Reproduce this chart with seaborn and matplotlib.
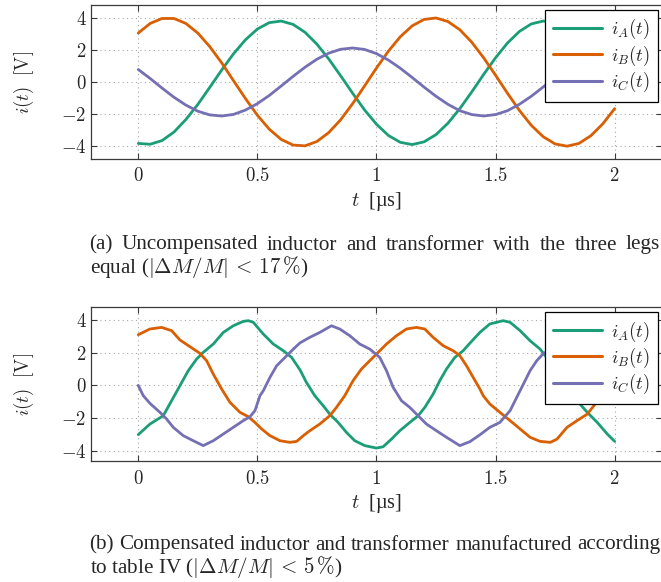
import numpy as np
import pandas as pd
import matplotlib
matplotlib.use("Agg")
import matplotlib.pyplot as plt
from matplotlib.lines import Line2D
from matplotlib.ticker import FuncFormatter, FixedLocator
import seaborn as sns

# ---------------------------------------------------------------- data
labels = [r"$i_A(t)$", r"$i_B(t)$", r"$i_C(t)$"]
colors = ["#1b9e77", "#d95f02", "#7570b3"]

# (a) uncompensated: sampled every 0.05 us
t_a = [0.00, 0.05, 0.10, 0.15, 0.20, 0.25, 0.30, 0.35, 0.40, 0.45,
       0.50, 0.55, 0.60, 0.65, 0.70, 0.75, 0.80, 0.85, 0.90, 0.95,
       1.00, 1.05, 1.10, 1.15, 1.20, 1.25, 1.30, 1.35, 1.40, 1.45,
       1.50, 1.55, 1.60, 1.65, 1.70, 1.75, 1.80, 1.85, 1.90, 1.95, 2.00]
iA_a = [-3.83, -3.88, -3.65, -3.12, -2.34, -1.40, -0.34, 0.74, 1.76, 2.63,
        3.30, 3.70, 3.80, 3.59, 3.10, 2.36, 1.43, 0.38, -0.70, -1.74,
        -2.63, -3.33, -3.76, -3.90, -3.73, -3.28, -2.57, -1.66, -0.62, 0.47,
        1.51, 2.43, 3.15, 3.62, 3.80, 3.67, 3.25, 2.57, 1.69, 0.66, -0.43]
iB_a = [3.05, 3.65, 3.96, 3.96, 3.65, 3.05, 2.21, 1.20, 0.08, -1.03,
        -2.07, -2.94, -3.58, -3.93, -3.98, -3.71, -3.15, -2.35, -1.35, -0.25,
        0.87, 1.92, 2.82, 3.50, 3.90, 3.99, 3.77, 3.26, 2.48, 1.51,
        0.42, -0.70, -1.77, -2.70, -3.41, -3.86, -4.00, -3.83, -3.35, -2.61, -1.66]
iC_a = [0.78, 0.22, -0.38, -0.95, -1.44, -1.82, -2.05, -2.12, -2.02, -1.75,
        -1.35, -0.84, -0.25, 0.35, 0.92, 1.42, 1.80, 2.04, 2.12, 2.03,
        1.77, 1.37, 0.86, 0.28, -0.32, -0.89, -1.39, -1.79, -2.03, -2.12,
        -2.03, -1.79, -1.39, -0.89, -0.31, 0.29, 0.87, 1.37, 1.77, 2.03, 2.12]

# (b) compensated
tA_b = [0.000, 0.049, 0.105, 0.140, 0.175, 0.210, 0.245, 0.273, 0.315, 0.357,
        0.399, 0.441, 0.462, 0.483, 0.525, 0.567, 0.609, 0.644, 0.679, 0.706,
        0.741, 0.776, 0.804, 0.839, 0.874, 0.909, 0.951, 1.000, 1.028, 1.063,
        1.098, 1.140, 1.175, 1.203, 1.238, 1.266, 1.294, 1.329, 1.364, 1.392,
        1.434, 1.476, 1.504, 1.532, 1.561, 1.603, 1.645, 1.687, 1.750, 1.800,
        1.842, 1.885, 1.927, 1.969, 2.000]
iA_b = [-3.02, -2.37, -1.86, -0.94, -0.02, 0.90, 1.61, 2.02, 2.53, 3.24,
        3.65, 3.92, 3.96, 3.86, 3.14, 2.53, 2.12, 1.71, 0.95, 0.18,
        -0.63, -1.24, -1.76, -2.27, -2.88, -3.39, -3.69, -3.84, -3.76, -3.29,
        -2.78, -2.27, -1.86, -1.35, -0.53, 0.29, 1.00, 1.71, 2.12, 2.58,
        3.24, 3.76, 3.86, 3.96, 3.86, 3.35, 2.73, 2.22, 1.05, -0.10,
        -0.94, -1.65, -2.27, -2.98, -3.43]
tB_b = [0.000, 0.049, 0.098, 0.140, 0.175, 0.217, 0.259, 0.287, 0.315, 0.350,
        0.385, 0.427, 0.462, 0.490, 0.518, 0.553, 0.595, 0.637, 0.665, 0.693,
        0.720, 0.762, 0.804, 0.832, 0.867, 0.902, 0.937, 0.972, 1.007, 1.042,
        1.084, 1.126, 1.168, 1.203, 1.238, 1.280, 1.322, 1.350, 1.378, 1.406,
        1.434, 1.448, 1.476, 1.518, 1.561, 1.603, 1.645, 1.687, 1.730, 1.758,
        1.800, 1.842, 1.885, 1.913, 1.934, 1.970, 2.000]
iB_b = [3.10, 3.45, 3.55, 3.35, 2.78, 2.37, 1.96, 1.51, 0.69, -0.22,
        -1.04, -1.65, -1.92, -2.27, -2.67, -3.08, -3.39, -3.49, -3.43, -3.08,
        -2.78, -2.37, -1.86, -1.35, -0.63, 0.29, 1.00, 1.51, 2.02, 2.53,
        3.04, 3.45, 3.55, 3.45, 2.94, 2.43, 2.12, 1.82, 1.20, 0.49,
        -0.22, -0.63, -1.14, -1.65, -2.16, -2.67, -3.18, -3.43, -3.49, -3.29,
        -2.57, -2.16, -1.76, -1.24, -0.84, 0.10, 0.86]
tC_b = [0.000, 0.021, 0.049, 0.091, 0.119, 0.147, 0.189, 0.231, 0.273, 0.315,
        0.357, 0.399, 0.441, 0.469, 0.490, 0.511, 0.525, 0.553, 0.581, 0.616,
        0.651, 0.679, 0.720, 0.762, 0.811, 0.846, 0.888, 0.930, 0.972, 1.014,
        1.042, 1.070, 1.105, 1.140, 1.175, 1.210, 1.252, 1.294, 1.350, 1.392,
        1.434, 1.476, 1.518, 1.561, 1.589, 1.617, 1.645, 1.673, 1.699, 1.750,
        1.800, 1.850, 1.885, 1.920, 1.960, 2.000]
iC_b = [0.00, -0.63, -1.10, -1.65, -2.06, -2.57, -3.08, -3.39, -3.69, -3.39,
        -2.98, -2.57, -2.16, -1.92, -1.55, -0.63, -0.33, 0.49, 1.20, 1.71,
        2.22, 2.60, 2.94, 3.24, 3.65, 3.45, 3.04, 2.53, 2.22, 1.71,
        0.90, -0.12, -0.94, -1.35, -1.86, -2.37, -2.78, -3.18, -3.69, -3.45,
        -3.03, -2.57, -2.27, -1.55, -0.73, 0.08, 0.90, 1.51, 1.92, 2.40,
        2.85, 3.30, 3.65, 3.40, 3.00, 2.55]

x_ticks = [0, 0.5, 1, 1.5, 2]
y_ticks = [-4, -2, 0, 2, 4]

caption_a = ["(a) Uncompensated inductor and transformer with the three legs",
             r"equal ($|\Delta M/M|\, <\, 17\,\%$)"]
caption_b = ["(b) Compensated inductor and transformer manufactured according",
             r"to table IV ($|\Delta M/M|\, <\, 5\,\%$)"]

# ---------------------------------------------------------------- style
sns.set_theme(style="white")
plt.rcParams.update({
    "font.family": ["Liberation Serif", "DejaVu Serif"],
    "mathtext.fontset": "cm",
    "axes.unicode_minus": True,
})

W, H = 661, 582
fig = plt.figure(figsize=(W / 100, H / 100), dpi=100)


def px_box(left, top, right, bottom):
    return [left / W, 1 - bottom / H, (right - left) / W, (bottom - top) / H]


def long_frame(series):
    parts = []
    for name, (t, v) in zip(labels, series):
        parts.append(pd.DataFrame({"t": t, "i": v, "phase": name}))
    return pd.concat(parts, ignore_index=True)


def draw_panel(ax, df, ylim):
    sns.lineplot(data=df, x="t", y="i", hue="phase", hue_order=labels,
                 palette=colors, estimator=None, sort=False, linewidth=2.0,
                 legend=False, ax=ax)
    ax.set_xlim(-0.2, 2.2)
    ax.set_ylim(*ylim)
    ax.xaxis.set_major_locator(FixedLocator(x_ticks))
    ax.yaxis.set_major_locator(FixedLocator(y_ticks))
    fmt = FuncFormatter(lambda v, p: r"$%g$" % v)
    ax.xaxis.set_major_formatter(fmt)
    ax.yaxis.set_major_formatter(fmt)
    ax.grid(True, color="#a8a8a8", linestyle=(0, (1, 3)), linewidth=0.8)
    ax.set_axisbelow(True)
    for s in ax.spines.values():
        s.set_color("#3a3a3a")
        s.set_linewidth(0.9)
    ax.tick_params(axis="both", direction="in", length=4, width=0.8,
                   color="#3a3a3a", labelsize=13.5, top=True, right=True,
                   left=True, bottom=True)
    ax.tick_params(axis="x", pad=6)
    ax.tick_params(axis="y", pad=3)
    ax.set_xlabel(r"$t$  [µs]", fontsize=14.5)
    ax.set_ylabel(r"$i(t)\ \ [\mathrm{V}]$", fontsize=13.5)
    ax.xaxis.set_label_coords(0.5, -0.20)
    ax.yaxis.set_label_coords(-0.095, 0.5)
    handles = [Line2D([], [], color=c, linewidth=2.2) for c in colors]
    leg = ax.legend(handles, labels, loc="upper right", fontsize=13.5,
                    frameon=True, fancybox=False, framealpha=1,
                    edgecolor="black", borderaxespad=0.25,
                    handlelength=2.6, handletextpad=0.5, labelspacing=0.12,
                    borderpad=0.4)
    leg.get_frame().set_linewidth(0.9)


ax_a = fig.add_axes(px_box(90.6, 5, 662.3, 159))
draw_panel(ax_a, long_frame([(t_a, iA_a), (t_a, iB_a), (t_a, iC_a)]),
           (-4.8, 4.8))

ax_b = fig.add_axes(px_box(90.6, 307.3, 662.3, 461.3))
draw_panel(ax_b, long_frame([(tA_b, iA_b), (tB_b, iB_b), (tC_b, iC_b)]),
           (-4.65, 4.78))

# captions: first line justified across the text block, last line ragged
renderer = fig.canvas.get_renderer()
cap_size = 15.2
x_left, x_right = 89.5, 660.0


def justified_line(line, y_px):
    words = line.split(" ")
    arts = [fig.text(0, 1 - y_px / H, w, fontsize=cap_size, ha="left",
                     va="baseline") for w in words]
    widths = [a.get_window_extent(renderer).width for a in arts]
    gap = (x_right - x_left - sum(widths)) / (len(words) - 1)
    x = x_left
    for a, w in zip(arts, widths):
        a.set_x(x / W)
        x += w + gap


for lines, base in ((caption_a, 249.5), (caption_b, 549.5)):
    justified_line(lines[0], base)
    fig.text(x_left / W, 1 - (base + 23) / H, lines[1], fontsize=cap_size,
             ha="left", va="baseline")

fig.savefig("out.png", dpi=100)
